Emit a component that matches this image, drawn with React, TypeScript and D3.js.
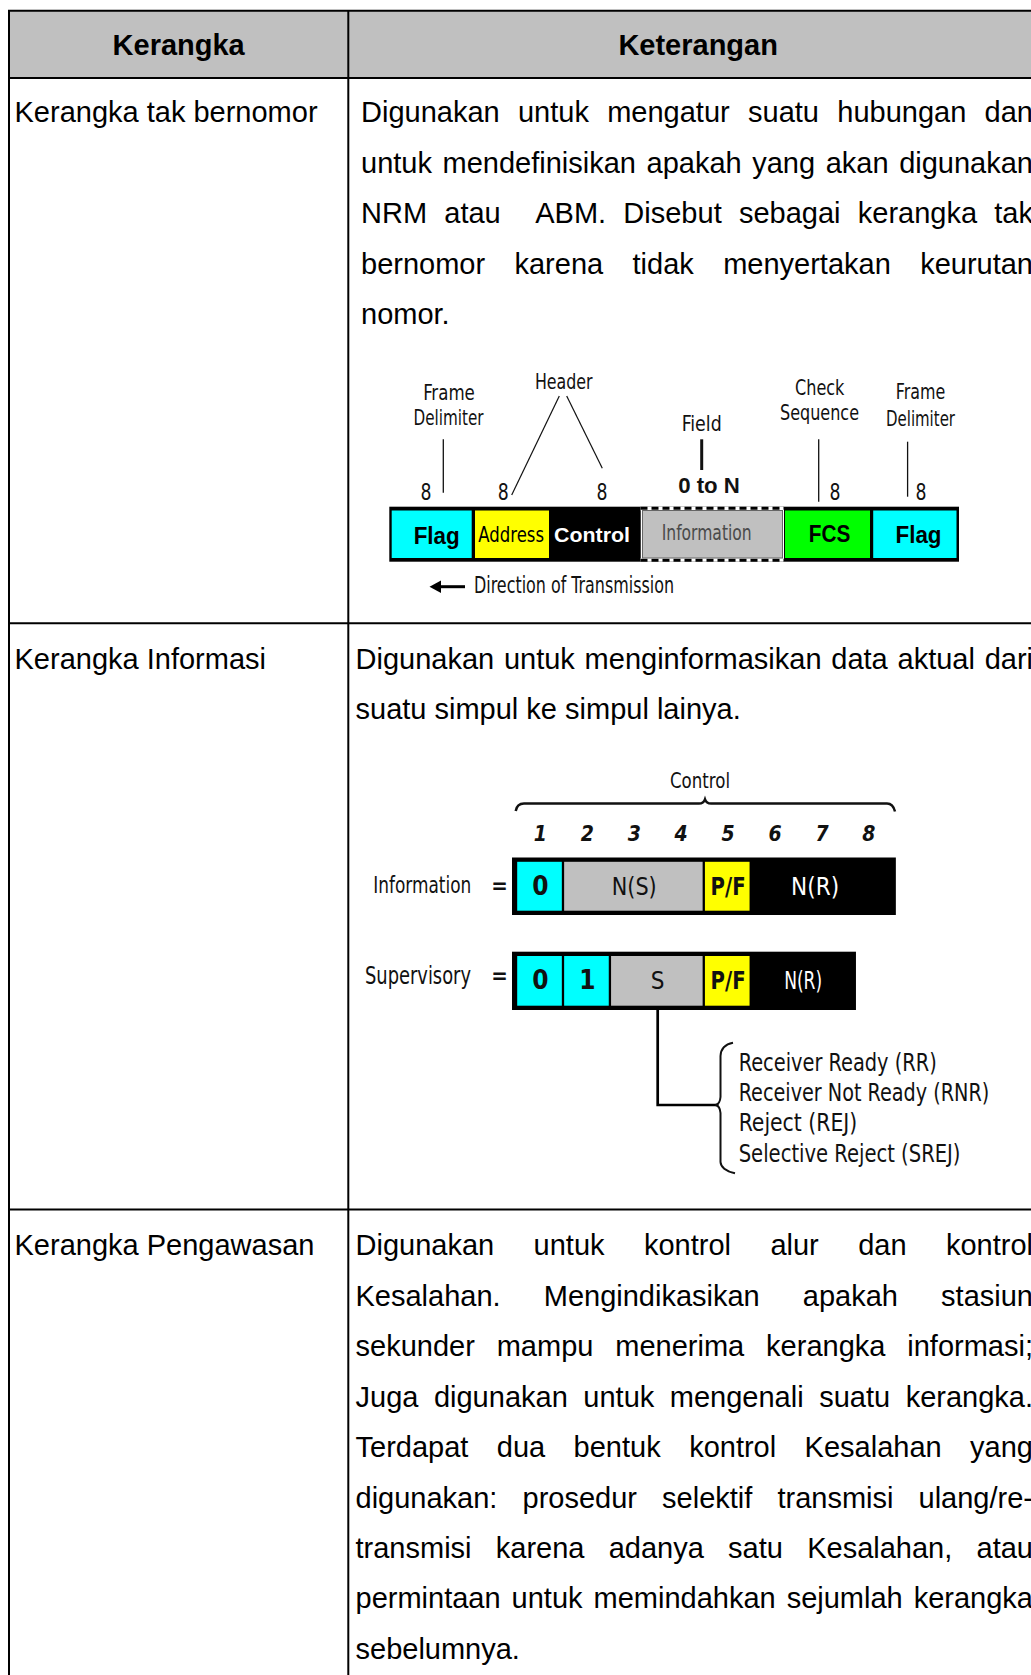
import React, { useMemo } from "react";
import * as d3 from "d3";

// ---- table content ----
const headers = ["Kerangka", "Keterangan"];
const frameTypes = ["Kerangka tak bernomor", "Kerangka Informasi", "Kerangka Pengawasan"];

const unnumberedText = [
  "Digunakan untuk mengatur suatu hubungan dan",
  "untuk mendefinisikan apakah yang akan digunakan",
  "NRM atau  ABM. Disebut sebagai kerangka tak",
  "bernomor karena tidak menyertakan keurutan",
  "nomor.",
];
const informationText = [
  "Digunakan untuk menginformasikan data aktual dari",
  "suatu simpul ke simpul lainya.",
];
const supervisoryText = [
  "Digunakan untuk kontrol alur dan kontrol",
  "Kesalahan. Mengindikasikan apakah stasiun",
  "sekunder mampu menerima kerangka informasi;",
  "Juga digunakan untuk mengenali suatu kerangka.",
  "Terdapat dua bentuk kontrol Kesalahan yang",
  "digunakan: prosedur selektif transmisi ulang/re-",
  "transmisi karena adanya satu Kesalahan, atau",
  "permintaan untuk memindahkan sejumlah kerangka",
  "sebelumnya.",
];

// ---- frame diagram content ----
const frameFields = ["Flag", "Address", "Control", "Information", "FCS", "Flag"];
const frameFieldBits = ["8", "8", "8", "0 to N", "8", "8"];
const direction = "Direction of Transmission";

// ---- control field diagram content ----
const controlTitle = "Control";
const controlBits = [1, 2, 3, 4, 5, 6, 7, 8];
const infoLabels = ["0", "N(S)", "P/F", "N(R)"];
const infoSpans = [[1, 1], [2, 4], [5, 5], [6, 8]];
const supLabels = ["0", "1", "S", "P/F", "N(R)"];
const supSpans = [[1, 1], [2, 2], [3, 4], [5, 5], [6, 7.15]];
const supervisoryCodes = [
  "Receiver Ready (RR)",
  "Receiver Not Ready (RNR)",
  "Reject (REJ)",
  "Selective Reject (SREJ)",
];

const SANS = '"Liberation Sans", Arial, sans-serif';
const NARROW = '"Liberation Sans Narrow", "Arial Narrow", "DejaVu Sans Condensed", sans-serif';
const FS = 29;

const cellFill: Record<string, string> = {
  "0": "#00ffff", "1": "#00ffff", "N(S)": "#c0c0c0", "S": "#c0c0c0", "P/F": "#ffff00", "N(R)": "#000",
};
const frameFill = ["#00ffff", "#ffff00", "#000", "#c0c0c0", "#00ff00", "#00ffff"];

let ctx: CanvasRenderingContext2D | null = null;
function measure(s: string) {
  if (!ctx) {
    ctx = document.createElement("canvas").getContext("2d");
    ctx!.font = `${FS}px "Liberation Sans"`;
  }
  return ctx!.measureText(s).width;
}

function Paragraph({ lines, x0, x1, y0, step }: any) {
  return (
    <g fontFamily={SANS} fontSize={FS} fill="#000">
      {lines.map((line: string, i: number) => {
        const y = y0 + i * step;
        const last = i === lines.length - 1;
        if (last) return <text key={i} x={x0} y={y}>{line}</text>;
        const words = line.split(" ");
        const widths = words.map(measure);
        const gap = (x1 - x0 - d3.sum(widths)) / (words.length - 1);
        let x = x0;
        return (
          <text key={i} y={y}>
            {words.map((w, j) => {
              const el = <tspan key={j} x={x}>{w}</tspan>;
              x += widths[j] + gap;
              return el;
            })}
          </text>
        );
      })}
    </g>
  );
}

function Lbl({ x, y, w, size = 22, anchor = "middle", fill = "#111", weight = "normal", family = NARROW, style, children }: any) {
  return (
    <text x={x} y={y} fontSize={size} fontFamily={family} fontWeight={weight} fill={fill}
      textAnchor={anchor} fontStyle={style}
      {...(w ? { textLength: w, lengthAdjust: "spacingAndGlyphs" } : {})}>
      {children}
    </text>
  );
}

function FrameDiagram() {
  // cell extents in px for the six fields
  const cells = [[391.7, 471.7], [475, 549], [549, 640.5], [642.5, 782.5], [785, 870], [873.2, 956.5]];
  const textX = [436.7, 511.2, 592, 706.7, 829.5, 918.5];
  const textY = [544, 541.7, 541.7, 540, 541.5, 543];
  const bitX = [426, 503.3, 602, 709, 835, 921];
  const top = 506.7, bot = 561.7;
  return (
    <g>
      {/* captions */}
      <Lbl x={449} y={399.5} w={51.7}>Frame</Lbl>
      <Lbl x={448.5} y={425} w={70}>Delimiter</Lbl>
      <Lbl x={563.8} y={388.5} w={57.7}>Header</Lbl>
      <Lbl x={701.7} y={430.5} w={40}>Field</Lbl>
      <Lbl x={819.7} y={395} w={49.4}>Check</Lbl>
      <Lbl x={819.5} y={419.5} w={79}>Sequence</Lbl>
      <Lbl x={920.5} y={399} w={49.4}>Frame</Lbl>
      <Lbl x={920.5} y={425.5} w={69}>Delimiter</Lbl>
      <g stroke="#111" fill="none">
        <line x1={443.3} y1={439.3} x2={443.3} y2={492.7} strokeWidth={1.3} />
        <line x1={511.7} y1={495} x2={559.3} y2={396} strokeWidth={1.2} />
        <line x1={566.7} y1={396} x2={602.3} y2={468.3} strokeWidth={1.2} />
        <line x1={701.7} y1={439.3} x2={701.7} y2={470} strokeWidth={3} />
        <line x1={818.7} y1={439.3} x2={818.7} y2={501.7} strokeWidth={1.3} />
        <line x1={907.6} y1={441.7} x2={907.6} y2={496.7} strokeWidth={1.3} />
      </g>
      {frameFieldBits.map((b, i) =>
        b === "8" ? (
          <Lbl key={i} x={bitX[i]} y={499.5} size={23} w={11}>{b}</Lbl>
        ) : (
          <Lbl key={i} x={bitX[i]} y={492.7} size={22} w={61.7} family={SANS} weight="bold">{b}</Lbl>
        )
      )}
      {/* bar */}
      <rect x={389.3} y={top} width={959 - 389.3} height={bot - top} fill="#000" />
      <rect x={640.5} y={top} width={784 - 640.5} height={bot - top} fill="#fff" />
      <g stroke="#000" strokeWidth={3} strokeDasharray="7 4">
        <line x1={640.5} y1={top + 1.5} x2={784} y2={top + 1.5} />
        <line x1={640.5} y1={bot - 1.5} x2={784} y2={bot - 1.5} />
      </g>
      {cells.map(([a, b], i) => (
        <rect key={i} x={a} y={510.5} width={b - a} height={47.5} fill={frameFill[i]}
          stroke={i === 3 ? "#666" : "none"} strokeWidth={1} />
      ))}
      {frameFields.map((f, i) => {
        if (f === "Flag" || f === "FCS")
          return <Lbl key={i} x={textX[i]} y={textY[i]} size={23} family={SANS} weight="bold" fill="#000"
            w={f === "FCS" ? 41.5 : 46}>{f}</Lbl>;
        if (f === "Control")
          return <Lbl key={i} x={textX[i]} y={textY[i]} size={21} family={SANS} weight="bold" fill="#fff" w={76}>{f}</Lbl>;
        if (f === "Address")
          return <Lbl key={i} x={textX[i]} y={textY[i]} size={22} fill="#000" w={65.7}>{f}</Lbl>;
        return <Lbl key={i} x={textX[i]} y={textY[i]} size={21} fill="#4a4a4a" w={90}>{f}</Lbl>;
      })}
      {/* direction arrow */}
      <line x1={465} y1={586.7} x2={438} y2={586.7} stroke="#000" strokeWidth={3} />
      <path d="M429.5,586.7 L441,580.5 L441,592.9 Z" fill="#000" />
      <Lbl x={474} y={593.3} size={23} anchor="start" w={200}>{direction}</Lbl>
    </g>
  );
}

function ControlDiagram() {
  const bx = d3.scaleLinear().domain([0.5, 8.5]).range([516.9, 892.35]);
  const row = (labels: string[], spans: number[][], top: number, bot: number, key: string) => {
    const right = bx(spans[spans.length - 1][1] + 0.5) + 3.5;
    return (
      <g key={key}>
        <rect x={512} y={top} width={right - 512} height={bot - top} fill="#000" />
        {labels.map((l, i) => {
          const a = bx(spans[i][0] - 0.5) + 0.3;
          const b = bx(spans[i][1] + 0.5) - 2;
          const cx = (bx(spans[i][0]) + bx(spans[i][1])) / 2;
          const cy = (top + bot) / 2 + 8.5;
          const isDigit = l === "0" || l === "1";
          const nrX = key === "i" ? (a + b) / 2 - 6 : (a + b) / 2 + 2;
          return (
            <g key={i}>
              <rect x={a} y={top + 4.3} width={b - a} height={bot - top - 8.6} fill={cellFill[l]} />
              <Lbl x={l === "N(R)" ? nrX : cx} y={cy} size={isDigit ? 26 : 24}
                weight={l === "P/F" || isDigit ? "bold" : "normal"}
                fill={l === "N(R)" ? "#fff" : "#111"}
                w={l === "N(S)" ? 45 : l === "P/F" ? 35 : l === "N(R)" ? (key === "i" ? 48 : 38) : undefined}>
                {l}
              </Lbl>
            </g>
          );
        })}
      </g>
    );
  };
  return (
    <g>
      <Lbl x={700} y={787.5} w={60}>{controlTitle}</Lbl>
      <path d="M515.7,811 Q517,803.5 524,803.5 L699,803.5 Q703.5,803.5 705,799.3 Q706.5,803.5 711,803.5 L887,803.5 Q893,803.5 895,811.5"
        fill="none" stroke="#111" strokeWidth={2.5} />
      {controlBits.map((b) => (
        <Lbl key={b} x={bx(b)} y={840.5} size={21} weight="bold" style="italic">{String(b)}</Lbl>
      ))}
      <Lbl x={373.3} y={893.3} size={23} anchor="start" w={98}>Information</Lbl>
      <Lbl x={499.5} y={893} size={22} weight="bold">=</Lbl>
      {row(infoLabels, infoSpans, 857.5, 915, "i")}
      <Lbl x={365} y={984} size={24} anchor="start" w={106}>Supervisory</Lbl>
      <Lbl x={499.5} y={983} size={22} weight="bold">=</Lbl>
      {row(supLabels, supSpans, 951.7, 1010, "s")}
      {/* S branch */}
      <path d={`M${bx(3.5)},1010 L${bx(3.5)},1105 L718.5,1105`} fill="none" stroke="#000" strokeWidth={2.7} />
      <path d="M733,1042.7 Q721,1045 720.5,1056 L720.5,1097 Q720,1104 715.5,1105 Q720,1106 720.5,1113 L720.5,1162 Q721,1170 735,1173.3"
        fill="none" stroke="#111" strokeWidth={2} />
      {supervisoryCodes.map((c, i) => (
        <Lbl key={i} x={738.7} y={[1071, 1100.5, 1130.5, 1162][i]} size={25} anchor="start"
          w={[198, 250.6, 118.6, 221.8][i]}>{c}</Lbl>
      ))}
    </g>
  );
}

export default function App() {
  const left = 9, right = 1048, top = 10.7, headBot = 78, col = 348.3;
  const rowLines = [623.3, 1209.5];
  const firstBase = [122.2, 668.5, 1255.2];
  const step = 50.5;

  const body = useMemo(
    () => (
      <>
        <Paragraph lines={unnumberedText} x0={361} x1={1033} y0={firstBase[0]} step={step} />
        <Paragraph lines={informationText} x0={355.5} x1={1033} y0={firstBase[1]} step={step} />
        <Paragraph lines={supervisoryText} x0={355.5} x1={1033} y0={firstBase[2]} step={50.47} />
      </>
    ),
    []
  );

  return (
    <svg width={1031} height={1675} style={{ position: "absolute", left: 0, top: 0, display: "block", background: "#fff" }}>
      <rect x={left} y={top} width={right - left} height={headBot - top} fill="#c0c0c0" />
      <g stroke="#000" strokeWidth={2}>
        <line x1={left - 1} y1={top} x2={right} y2={top} />
        <line x1={left} y1={top} x2={left} y2={1700} />
        <line x1={col} y1={top} x2={col} y2={1700} />
        <line x1={right} y1={top} x2={right} y2={1700} />
        <line x1={left} y1={headBot} x2={right} y2={headBot} />
        {rowLines.map((y) => <line key={y} x1={left} y1={y} x2={right} y2={y} />)}
      </g>
      <g fontFamily={SANS} fontSize={FS} fontWeight="bold" textAnchor="middle">
        <text x={(left + col) / 2} y={55}>{headers[0]}</text>
        <text x={(col + right) / 2} y={55}>{headers[1]}</text>
      </g>
      <g fontFamily={SANS} fontSize={FS}>
        {frameTypes.map((t, i) => <text key={t} x={14.5} y={firstBase[i]}>{t}</text>)}
      </g>
      {body}
      <FrameDiagram />
      <ControlDiagram />
    </svg>
  );
}
